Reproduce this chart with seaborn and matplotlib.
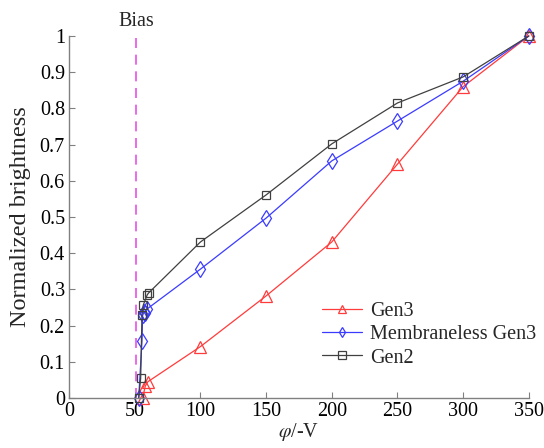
import matplotlib
matplotlib.use("Agg")
import matplotlib.pyplot as plt
import seaborn as sns
import pandas as pd

# Applied voltage (-V) and normalized brightness for each tube type
gen3_v = [56, 58, 60, 100, 150, 200, 250, 300, 350]
gen3_b = [0.0, 0.033, 0.045, 0.142, 0.282, 0.431, 0.646, 0.86, 1.0]

mgen3_v = [53, 55.5, 56, 57, 58, 59, 100, 150, 200, 250, 300, 350]
mgen3_b = [0.0, 0.157, 0.228, 0.238, 0.235, 0.245, 0.356, 0.497, 0.655, 0.765, 0.875, 1.0]

gen2_v = [53, 54.5, 55.5, 56.5, 59.5, 60.5, 100, 150, 200, 250, 300, 350]
gen2_b = [0.0, 0.054, 0.228, 0.257, 0.285, 0.29, 0.431, 0.561, 0.702, 0.815, 0.887, 1.0]

bias_v = 51

x_ticks = [0, 50, 100, 150, 200, 250, 300, 350]
y_ticks = [0, 0.1, 0.2, 0.3, 0.4, 0.5, 0.6, 0.7, 0.8, 0.9, 1]
y_tick_labels = ["0", "0.1", "0.2", "0.3", "0.4", "0.5", "0.6", "0.7", "0.8", "0.9", "1"]

sns.set_theme(style="white")
plt.rcParams["font.family"] = ["Liberation Serif", "DejaVu Serif"]
plt.rcParams["mathtext.fontset"] = "stix"

fig = plt.figure(figsize=(5.44, 4.48), dpi=100)
ax = fig.add_axes([0.127, 0.1116, 0.845, 0.808])

series = [
    ("Gen3", gen3_v, gen3_b, "#ff3b3b", "^", 8),
    ("Membraneless Gen3", mgen3_v, mgen3_b, "#3b3bff", "d", 8),
    ("Gen2", gen2_v, gen2_b, "#404040", "s", 6),
]

for name, v, b, color, marker, ms in series:
    df = pd.DataFrame({"v": v, "b": b})
    sns.lineplot(data=df, x="v", y="b", ax=ax, color=color, marker=marker,
                 markersize=ms, markerfacecolor="none", markeredgecolor=color,
                 markeredgewidth=0.9, linewidth=0.9, sort=False,
                 estimator=None, label=name, clip_on=False)

ax.axvline(bias_v, color="#e651e6", linewidth=1.2, linestyle=(0, (6, 4)), zorder=0)
ax.text(bias_v, 1.015, "Bias", ha="center", va="bottom", fontsize=14.5,
        transform=ax.get_xaxis_transform())

ax.set_xlim(0, 350)
ax.set_ylim(0, 1)
ax.set_xticks(x_ticks)
ax.set_xticklabels([str(t) for t in x_ticks])
ax.set_yticks(y_ticks)
ax.set_yticklabels(y_tick_labels)

for side in ["top", "right"]:
    ax.spines[side].set_visible(False)
for side in ["left", "bottom"]:
    ax.spines[side].set_color("#808080")
    ax.spines[side].set_linewidth(1.0)

ax.tick_params(axis="both", direction="in", length=4, width=0.8, color="#808080",
               labelsize=14.5, labelcolor="black", pad=3)
ax.tick_params(axis="both", which="both", bottom=True, left=True)

ax.set_xlabel(r"$\varphi$/-V", fontsize=14.5, labelpad=0)
ax.set_ylabel("Normalized brightness", fontsize=17.5, labelpad=6)

leg = ax.legend(loc="upper left", bbox_to_anchor=(0.533, 0.287), frameon=False,
                fontsize=14.5, handlelength=2.0, handletextpad=0.4, labelspacing=0.2,
                borderaxespad=0.0)
for h in leg.legend_handles:
    h.set_markersize(5.5)

fig.savefig("out.png", dpi=100)
